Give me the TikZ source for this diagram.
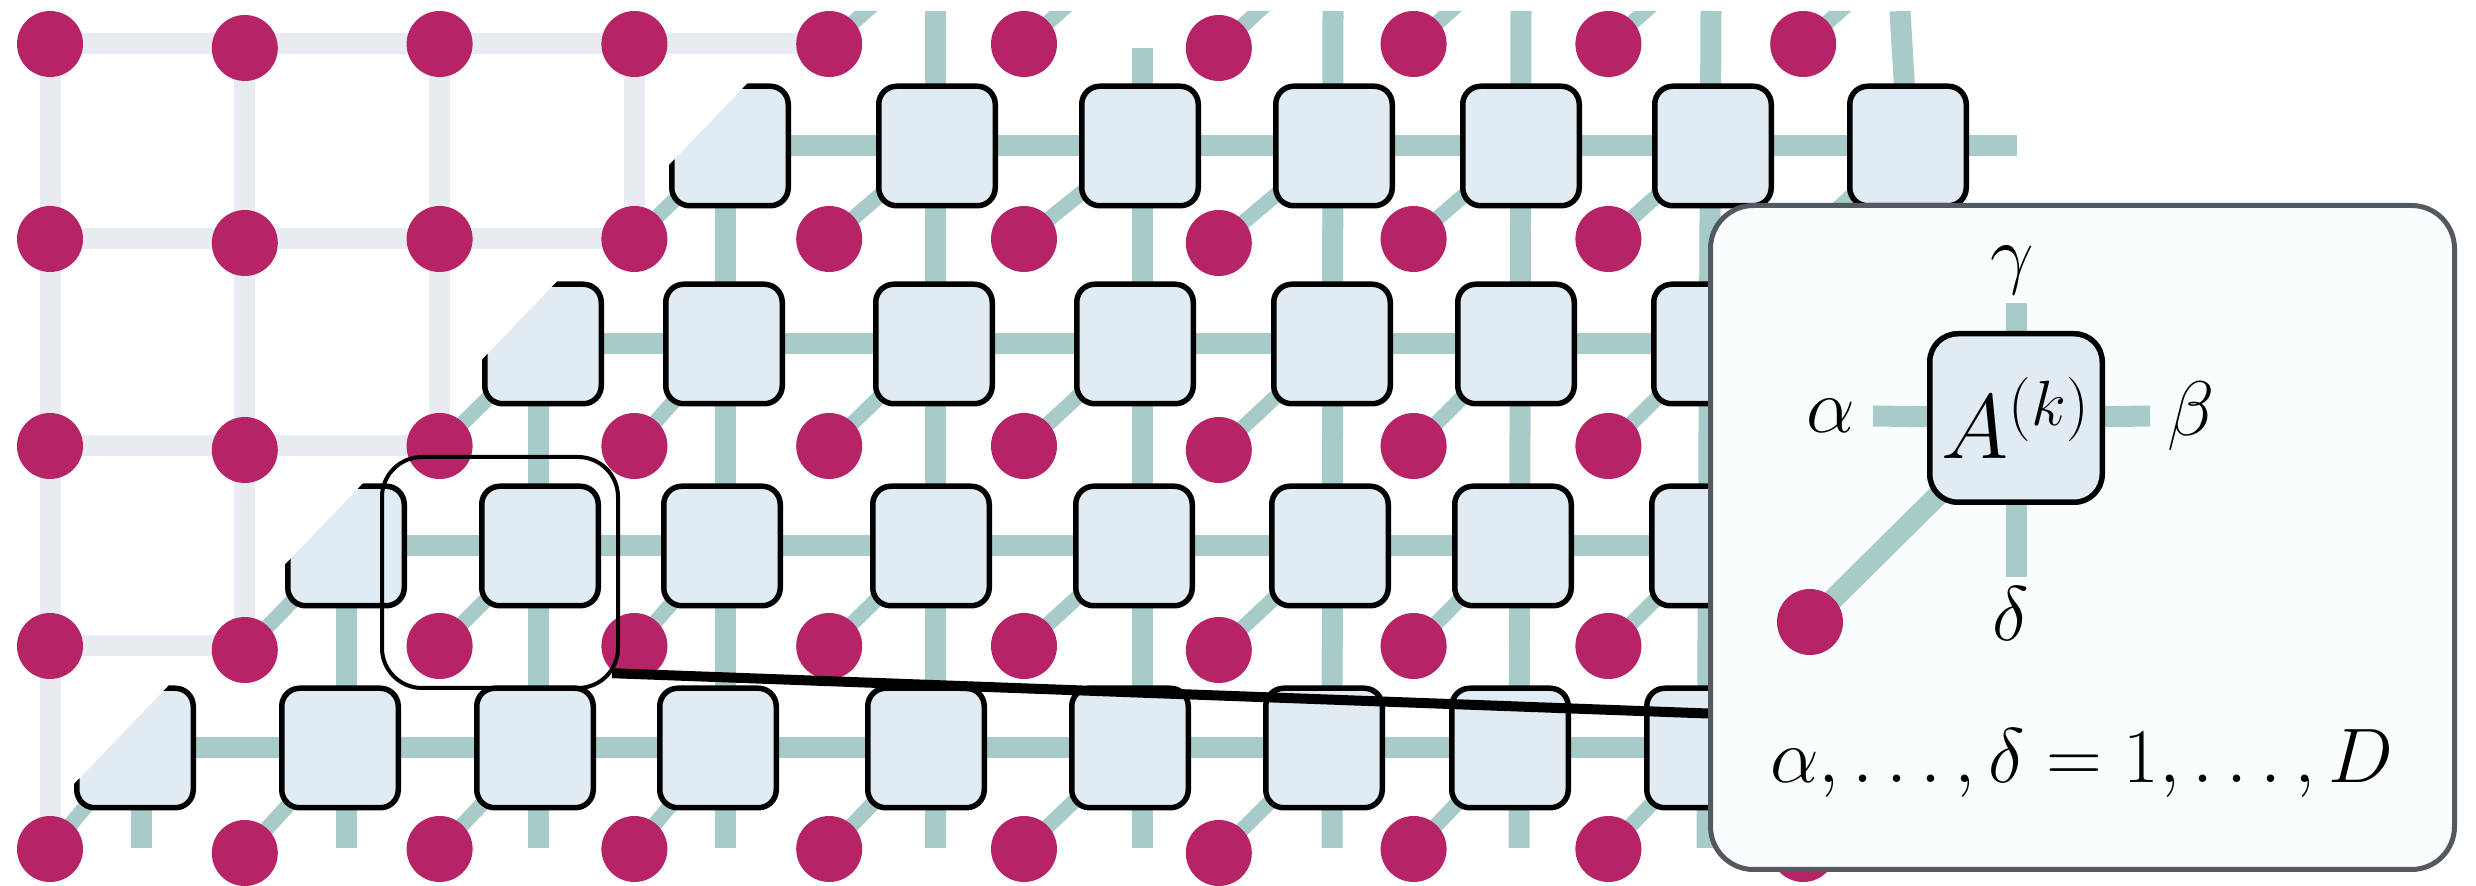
\RequirePackage{fix-cm}
\documentclass[tikz,border=0pt]{standalone}
\usetikzlibrary{calc}
\pgfdeclarelayer{bg}
\pgfdeclarelayer{insetbox}
\pgfdeclarelayer{insetlines}
\pgfdeclarelayer{insetfront}
\pgfsetlayers{bg,main,insetbox,insetlines,insetfront}
\definecolor{sitecol}{RGB}{182,35,102}
\definecolor{bondcol}{RGB}{167,203,200}
\definecolor{latcol}{RGB}{232,236,240}
\definecolor{tensfill}{RGB}{225,235,244}
\definecolor{insetfill}{RGB}{249,253,253}
\definecolor{insetdraw}{RGB}{84,89,96}
\tikzset{
  site/.style={circle, fill=sitecol, minimum size=6.6mm, inner sep=0pt},
  tens/.style={draw=black, fill=tensfill, line width=0.55mm, rounded corners=1.8mm,
    minimum width=11.65mm, minimum height=11.95mm, inner sep=0pt},
  bond/.style={draw=bondcol, line width=2.1mm},
  physbond/.style={draw=bondcol, line width=1.5mm},
  latt/.style={draw=latcol, line width=2.1mm},
  lbl/.style={inner sep=0pt, font=\fontsize{22}{26}\selectfont},
}
\def\rowA{3/730,4/937,5/1140,6/1334,7/1521,8/1713,9/1908}
\def\rowB{2/543,3/724,4/934,5/1135,6/1332,7/1516,8/1712}
\def\rowC{1/346,2/540,3/722,4/931,5/1134,6/1330,7/1513,8/1710}
\def\rowD{0/135,1/340,2/535,3/718,4/926,5/1130,6/1324,7/1510,8/1705}
\def\pickrow#1{\ifcase#1\relax\let\lst\rowA\or\let\lst\rowB\or\let\lst\rowC\else\let\lst\rowD\fi}
\begin{document}
\begin{tikzpicture}[x=0.1mm, y=-0.1mm]
\useasboundingbox (0,0) rectangle (2476,886);
\begin{pgfonlayer}{bg}
  \fill[white] (0,0) rectangle (2476,886);
\end{pgfonlayer}
% physical sites
\foreach \r/\yy in {0/44,1/239,2/446,3/646,4/849}{
  \foreach \c/\dy in {0/0,1/4,2/0,3/0,4/0,5/0,6/4,7/0,8/0,9/0}{
    \node[site] (d-\r-\c) at ({50+194.8*\c},{\yy+\dy}) {};
  }
}
% tensors (clipped along the diagonal)
\begin{scope}
  \clip (817,11) -- (2017,11) -- (2017,848) -- (12.5,848) -- cycle;
  \foreach \t/\yy in {0/146,1/344,2/546,3/748}{
    \pickrow{\t}
    \foreach \c/\xx in \lst {
      \node[tens] (t-\t-\c) at (\xx,\yy) {};
    }
  }
\end{scope}
% free ends of bonds
\coordinate (hr-0) at (2017,146);
\coordinate (hr-1) at (2017,344);
\coordinate (hr-2) at (2017,546);
\coordinate (hr-3) at (2017,748);
\foreach \c/\xx in {0/141,1/346,2/538,3/725,4/935,5/1142,6/1332,7/1519,8/1707}{
  \coordinate (bs-\c) at (\xx,848);
}
\foreach \c/\xx/\yy in {0/141/748,1/346/546,2/538/344,3/725/146,4/935/11,5/1142/48,6/1333/11,7/1521/11,8/1711/11,9/1900/11}{
  \coordinate (ts-\c) at (\xx,\yy);
}
\foreach \c in {4,...,9}{
  \coordinate (ud-\c) at ({50+194.8*\c+112},-56);
}
\begin{pgfonlayer}{bg}
  % light lattice of the bare sites
  \foreach \r/\m in {0/4,1/3,2/2,3/1}
    \draw[latt] (d-\r-0.center) -- (d-\r-0.center -| d-\r-\m.center);
  \foreach \c/\m in {0/4,1/3,2/2,3/1}
    \draw[latt] (d-0-\c.center) -- (d-0-\c.center |- d-\m-\c.center);
  \begin{scope}
    \clip (817,11) -- (2017,11) -- (2017,848) -- (12.5,848) -- cycle;
    % horizontal bonds
    \draw[bond] (t-0-3.center) -- (t-0-9.center) -- (hr-0);
    \draw[bond] (t-1-2.center) -- (t-1-8.center) -- (hr-1);
    \draw[bond] (t-2-1.center) -- (t-2-8.center) -- (hr-2);
    \draw[bond] (t-3-0.center) -- (t-3-8.center) -- (hr-3);
    % vertical bonds
    \foreach \c in {0,...,8}
      \draw[bond] (ts-\c) -- (bs-\c);
    \draw[bond] (ts-9) -- (t-0-9.center);
    % physical legs
    \foreach \t in {0,1,2,3}{
      \pickrow{\t}
      \pgfmathtruncatemacro\nr{\t+1}
      \foreach \c/\xx in \lst {
        \draw[physbond] (d-\nr-\c.center) -- (t-\t-\c.center);
      }
    }
    \foreach \c in {4,...,9}
      \draw[physbond] (d-0-\c.center) -- (ud-\c);
  \end{scope}
\end{pgfonlayer}
% highlight
\node[draw=black, line width=0.4mm, rounded corners=4mm, minimum width=23.6mm,
  minimum height=23.1mm, inner sep=0pt] (hl) at (500,572.5) {};
% inset
\begin{pgfonlayer}{insetbox}
  \node[draw=insetdraw, fill=insetfill, line width=0.5mm, rounded corners=4.3mm,
    minimum width=74.4mm, minimum height=66.4mm, inner sep=0pt] (inset) at (2082.5,537.5) {};
\end{pgfonlayer}
\draw[line width=1mm] ($(hl.-40)+(-8,0)$) -- ($(inset.west)+(0,176)$);
\begin{pgfonlayer}{insetfront}
  \node[tens, minimum width=17.25mm, minimum height=16.85mm, rounded corners=2.8mm,
    font=\fontsize{26}{30}\selectfont] (Ak) at (2016,418) {$A^{(k)}$};
  \node[site] (dk) at (1810,622) {};
  \node[lbl] (la) at (1831,416) {$\alpha$};
  \node[lbl] (lb) at (2191,416) {$\beta$};
  \node[lbl] (lg) at (2012,270) {$\gamma$};
  \node[lbl] (ld) at (2011,614) {$\delta$};
  \node[lbl, anchor=base] (eq) at (2082,783) {$\alpha,\ldots,\delta=1,\ldots,D$};
\end{pgfonlayer}
\coordinate (legU) at (2016,303);
\coordinate (legL) at (1873,416);
\coordinate (legR) at (2150,416);
\coordinate (legD) at (2016,577);
\begin{pgfonlayer}{insetlines}
  \draw[bond] (Ak.center) -- (legU);
  \draw[bond] (Ak.center) -- (legL);
  \draw[bond] (Ak.center) -- (legR);
  \draw[bond] (Ak.center) -- (legD);
  \draw[bond] (dk.center) -- (Ak.center);
\end{pgfonlayer}
\end{tikzpicture}
\end{document}
